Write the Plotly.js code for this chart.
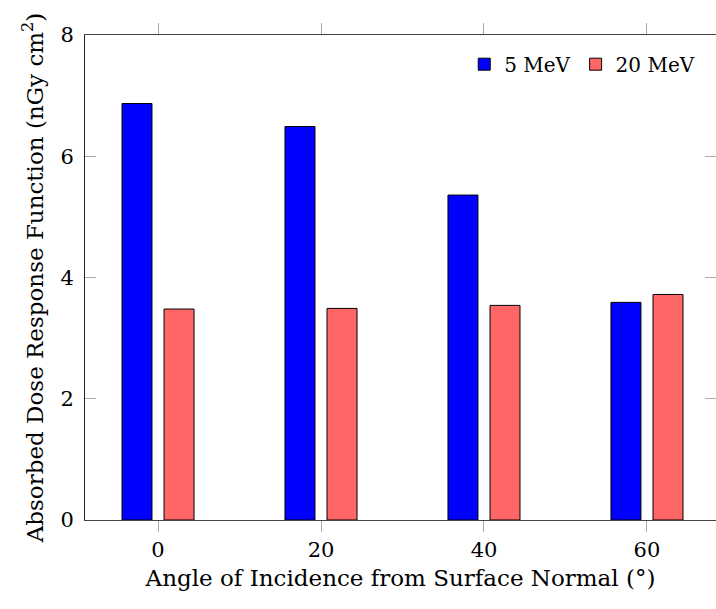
<!DOCTYPE html>
<html>
<head>
<meta charset="utf-8">
<script src="https://cdn.plot.ly/plotly-3.0.1.min.js"></script>
<style>html,body{margin:0;padding:0;background:#fff;}</style>
</head>
<body>
<div id="chart" style="width:716px;height:609px;"></div>
<script>
const angles = [0, 20, 40, 60];
const mev5 = [6.87, 6.49, 5.36, 3.59];
const mev20 = [3.48, 3.49, 3.54, 3.72];
const seriesNames = ['5 MeV', '20 MeV'];
const yTicks = [0, 2, 4, 6, 8];
const xTicks = [0, 20, 40, 60];

const font = 'DejaVu Serif, serif';
const traces = [
  {type:'bar', x:angles, y:mev5, name:seriesNames[0], width:3.68, offset:-4.42,
   marker:{color:'#0000ff', line:{color:'#000', width:1}}},
  {type:'bar', x:angles, y:mev20, name:seriesNames[1], width:3.68, offset:0.74,
   marker:{color:'#ff6666', line:{color:'#000', width:1}}}
];
const layout = {
  width:716, height:609,
  margin:{l:85, r:0, t:35, b:89},
  paper_bgcolor:'#fff', plot_bgcolor:'#fff',
  barmode:'overlay',
  font:{family:font, size:20, color:'#000'},
  showlegend:true,
  legend:{orientation:'h', x:0.975, xanchor:'right', y:0.98, yanchor:'top',
          bgcolor:'rgba(255,255,255,0)', font:{family:font, size:20}, itemwidth:30,
          tracegroupgap:0, traceorder:'normal'},
  xaxis:{range:[-8.96, 68.47], tickvals:xTicks, ticktext:xTicks.map(String),
         ticks:'outside', ticklen:11, tickcolor:'#aaa', showline:true, linecolor:'#444',
         mirror:'ticks', showgrid:false, zeroline:false, tickfont:{family:font, size:21},
         title:{text:'Angle of Incidence from Surface Normal (°)', font:{family:font, size:23}, standoff:8}},
  yaxis:{range:[0, 8], tickvals:yTicks, ticktext:yTicks.map(String),
         ticks:'inside', ticklen:11, tickcolor:'#aaa', showline:true, linecolor:'#222',
         mirror:'ticks', showgrid:false, zeroline:false, ticklabelstandoff:6, tickfont:{family:font, size:21},
         title:{text:'Absorbed Dose Response Function (nGy cm<sup>2</sup>)', font:{family:font, size:23}, standoff:10}}
};
Plotly.newPlot('chart', traces, layout, {displayModeBar:false, staticPlot:true});
</script>
</body>
</html>
